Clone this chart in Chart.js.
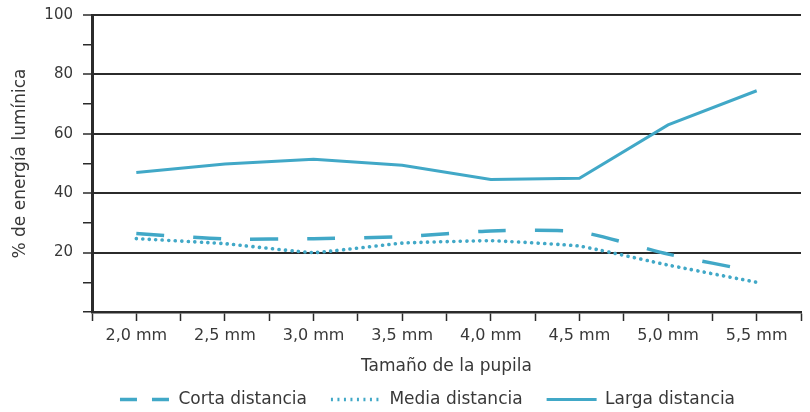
<!DOCTYPE html>
<html>
<head>
<meta charset="utf-8">
<script src="https://cdn.jsdelivr.net/npm/chart.js@4"></script>
<style>
  html, body { margin: 0; padding: 0; background: #fff; }
  #wrap { width: 810px; height: 412px; }
</style>
</head>
<body>
<div id="wrap"><canvas id="pupilChart"></canvas></div>
<script>
// Data
const pupilSizes = [2.0, 2.5, 3.0, 3.5, 4.0, 4.5, 5.0, 5.5];
const pupilLabels = ["2,0 mm", "2,5 mm", "3,0 mm", "3,5 mm", "4,0 mm", "4,5 mm", "5,0 mm", "5,5 mm"];
const yTickValues = [20, 40, 60, 80, 100];

const cortaDistancia = [26.4, 24.6, 24.7, 25.4, 27.3, 27.0, 19.5, 13.5];
const mediaDistancia = [24.7, 23.0, 20.0, 23.2, 24.0, 22.2, 15.8, 10.0];
const largaDistancia = [47.0, 49.8, 51.4, 49.4, 44.6, 45.0, 63.0, 74.5];

const lineColor = "#41a8c7";
const inkColor = "#2b2b2b";
const textColor = "#383838";
const fontFamily = "'DejaVu Sans', sans-serif";

function toPoints(values) {
  return pupilSizes.map((x, i) => ({ x: x, y: values[i] }));
}

// legend sits a bit lower and right of the default centred spot
const legendShift = {
  id: "legendShift",
  afterLayout(chart) {
    const lg = chart.legend;
    lg.left += 27;
    lg.right += 27;
    lg.top -= 10;
    lg.bottom -= 10;
  },
};

const legendDashes = [[17, 15], [2, 4.5], []];

const ctx = document.getElementById("pupilChart").getContext("2d");
const chart = new Chart(ctx, {
  type: "line",
  data: {
    datasets: [
      {
        label: "Corta distancia",
        data: toPoints(cortaDistancia),
        borderColor: lineColor,
        backgroundColor: lineColor,
        borderWidth: 3.5,
        borderDash: [28, 29],
        tension: 0.2,
        pointRadius: 0,
      },
      {
        label: "Media distancia",
        data: toPoints(mediaDistancia),
        borderColor: lineColor,
        backgroundColor: lineColor,
        borderWidth: 3.6,
        borderDash: [0.1, 6.4],
        borderCapStyle: "round",
        tension: 0.1,
        pointRadius: 0,
      },
      {
        label: "Larga distancia",
        data: toPoints(largaDistancia),
        borderColor: lineColor,
        backgroundColor: lineColor,
        borderWidth: 3,
        tension: 0,
        pointRadius: 0,
      },
    ],
  },
  options: {
    responsive: true,
    maintainAspectRatio: false,
    animation: false,
    devicePixelRatio: 1,
    layout: { padding: { top: 15, right: 9, bottom: -16, left: 0 } },
    plugins: {
      tooltip: { enabled: false },
      legend: {
        position: "bottom",
        labels: {
          usePointStyle: true,
          pointStyle: "line",
          pointStyleWidth: 50,
          padding: 24,
          color: textColor,
          font: { family: fontFamily, size: 17 },
          generateLabels(chart) {
            const items = Chart.defaults.plugins.legend.labels.generateLabels(chart);
            items.forEach((item, i) => {
              item.lineDash = legendDashes[i];
              item.lineCap = "butt";
            });
            return items;
          },
        },
      },
    },
    scales: {
      x: {
        type: "linear",
        min: 1.75,
        max: 5.75,
        afterFit: (scale) => {
          scale.height = 65;
        },
        border: { color: inkColor, width: 2.5 },
        grid: {
          drawOnChartArea: false,
          tickLength: 9,
          tickColor: inkColor,
          tickWidth: 1.5,
        },
        ticks: {
          stepSize: 0.25,
          autoSkip: false,
          maxRotation: 0,
          padding: 5,
          color: textColor,
          font: { family: fontFamily, size: 16 },
          callback: (value) => {
            const i = pupilSizes.indexOf(value);
            return i >= 0 ? pupilLabels[i] : "";
          },
        },
        title: {
          display: true,
          text: "Tamaño de la pupila",
          color: textColor,
          font: { family: fontFamily, size: 17 },
          padding: { top: 0, bottom: 0 },
        },
      },
      y: {
        min: 0,
        max: 100,
        afterFit: (scale) => {
          scale.width = 92;
          scale.paddingTop = 0;
          scale.paddingBottom = 0;
        },
        border: { color: inkColor, width: 3 },
        grid: {
          color: (c) => (yTickValues.includes(c.tick.value) ? inkColor : "rgba(0,0,0,0)"),
          lineWidth: (c) => (yTickValues.includes(c.tick.value) ? 2 : 1.5),
          tickColor: inkColor,
          tickWidth: 1.5,
          tickLength: 9,
        },
        ticks: {
          stepSize: 5,
          padding: 10,
          color: textColor,
          font: { family: fontFamily, size: 15 },
          callback: (value) => (yTickValues.includes(value) ? String(value) : ""),
        },
        title: {
          display: true,
          text: "% de energía lumínica",
          color: textColor,
          font: { family: fontFamily, size: 17 },
          padding: { top: 10, bottom: 0 },
        },
      },
    },
  },
  plugins: [legendShift],
});
</script>
</body>
</html>
